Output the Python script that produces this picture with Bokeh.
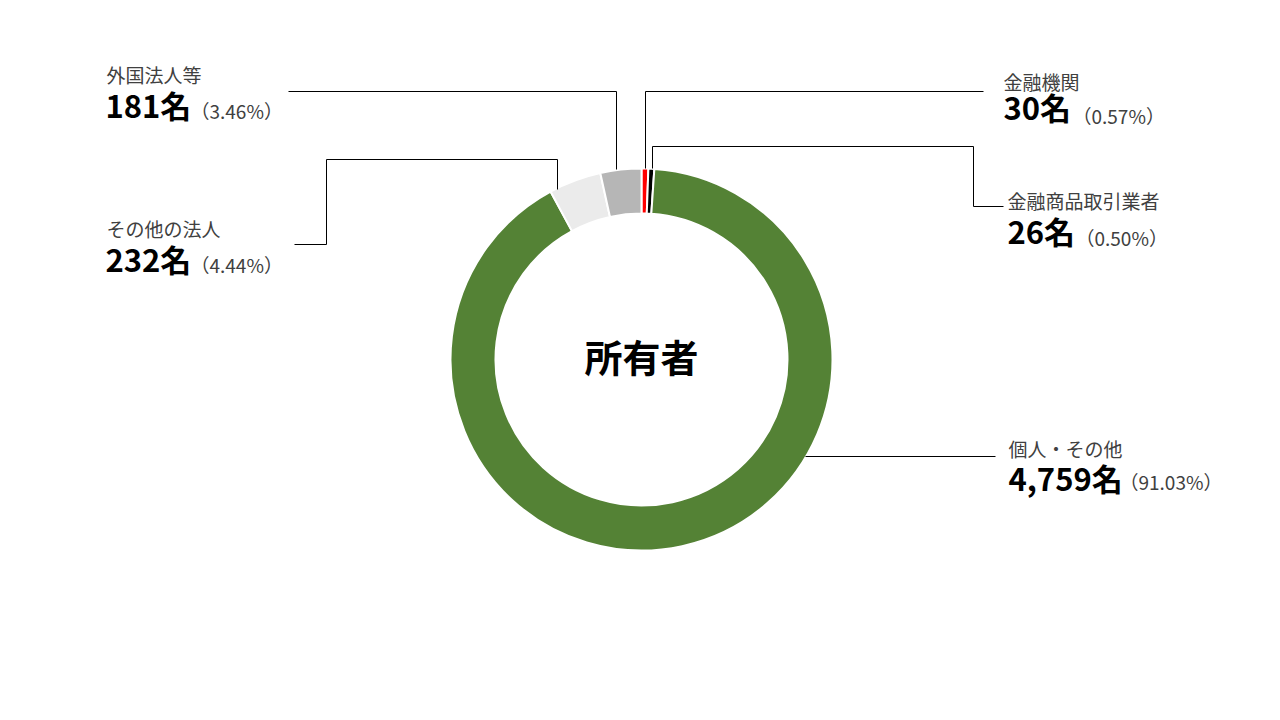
import numpy as np
from bokeh.plotting import figure
from bokeh.models import ColumnDataSource, Range1d
from bokeh.core.properties import value
from bokeh.embed import file_html
from bokeh.resources import INLINE

# ---- data ----
categories = ["金融機関", "金融商品取引業者", "個人・その他", "その他の法人", "外国法人等"]
counts = [30, 26, 4759, 232, 181]
count_labels = ["30名", "26名", "4,759名", "232名", "181名"]
pct_labels = ["（0.57%）", "（0.50%）", "（91.03%）", "（4.44%）", "（3.46%）"]
center_title = "所有者"

# ---- styles / layout (image pixel coordinates) ----
colors = ["#ff0000", "#000000", "#548235", "#ebebeb", "#b6b6b6"]
CX, CY, R_OUT, R_IN = 641, 359, 191, 146
label_x = [1003, 1007, 1008, 106, 106]
label_mid = [80.5, 200, 448, 228, 73.5]
value_x = [1003, 1007, 1008, 105, 105]
value_mid = [105.5, 229.5, 476.5, 258, 103.5]
pct_x = [1072, 1075, 1119, 190, 190]
pct_mid = [114.5, 237, 481, 264, 110]
leaders = [
    [(645, 168), (645, 91), (983, 91)],
    [(652, 168), (652, 146), (973, 146), (973, 206), (1003, 206)],
    [(805, 456), (995, 456)],
    [(557, 189), (557, 159), (326, 159), (326, 244), (294, 244)],
    [(616, 169), (616, 91), (288, 91)],
]

W, H = 1264, 704
p = figure(width=W, height=H, output_backend="svg", toolbar_location=None,
           x_range=Range1d(0, W), y_range=Range1d(-H, 0),
           x_axis_location=None, y_axis_location=None, min_border=0,
           background_fill_color="white", border_fill_color="white")
p.grid.visible = False
p.outline_line_color = None

# donut
total = float(sum(counts))
frac = np.array(counts) / total
cum = np.concatenate([[0.0], np.cumsum(frac)])
start = np.pi / 2 - 2 * np.pi * cum[:-1]
end = np.pi / 2 - 2 * np.pi * cum[1:]
src = ColumnDataSource(dict(x=[CX] * len(counts), y=[-CY] * len(counts),
                            start=start, end=end, color=colors, cat=categories))
p.annular_wedge(x="x", y="y", inner_radius=R_IN, outer_radius=R_OUT,
                start_angle="start", end_angle="end", direction="clock",
                fill_color="color", line_color="white", line_width=2, source=src)

# leader lines
p.multi_line(xs=[[pt[0] for pt in l] for l in leaders],
             ys=[[-pt[1] for pt in l] for l in leaders],
             line_color="black", line_width=1)

font = value("Noto Sans CJK JP")
lsrc = ColumnDataSource(dict(x=label_x, y=[-v for v in label_mid], t=categories))
p.text(x="x", y="y", text="t", source=lsrc, text_font=font, text_font_size="19px",
       text_color="#404040", text_align="left", text_baseline="middle")
vsrc = ColumnDataSource(dict(x=value_x, y=[-v for v in value_mid], t=count_labels))
p.text(x="x", y="y", text="t", source=vsrc, text_font=font, text_font_size="31px",
       text_font_style="bold", text_color="#000000", text_align="left",
       text_baseline="middle")
psrc = ColumnDataSource(dict(x=pct_x, y=[-v for v in pct_mid], t=pct_labels))
p.text(x="x", y="y", text="t", source=psrc, text_font=font, text_font_size="19px",
       text_color="#404040", text_align="left", text_baseline="middle")

p.text(x=[CX], y=[-355], text=[center_title], text_font=font, text_font_size="38px",
       text_font_style="bold", text_color="#000000", text_align="center",
       text_baseline="middle")

open("out.html", "w").write(file_html(p, INLINE))
